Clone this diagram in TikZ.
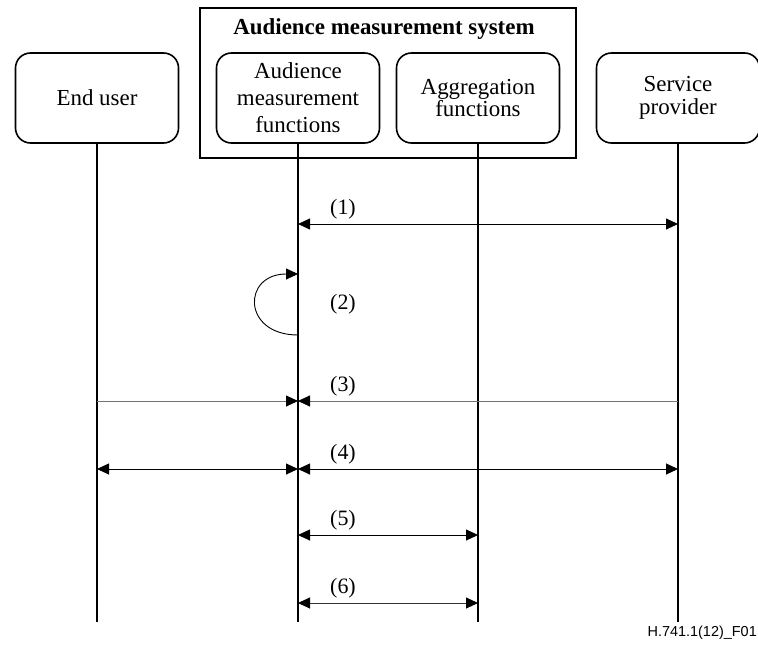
\documentclass[tikz,border=0pt]{standalone}
\usepackage{fontspec}
\setmainfont{Liberation Serif}
\setsansfont{Liberation Sans}
\usetikzlibrary{arrows.meta,calc}

\begin{document}
\begin{tikzpicture}[x=1bp,y=-1bp,font=\fontsize{23}{23}\selectfont,
  >={Triangle[length=12bp,width=11bp,color=black]},
  actor/.style={draw,line width=1.6bp,rounded corners=15bp,minimum width=163bp,minimum height=90bp,align=center,inner sep=0pt},
  sysbox/.style={draw,line width=1.8bp,minimum width=376bp,minimum height=150bp,inner sep=0pt},
  life/.style={line width=2bp},
  msg/.style={line width=.9bp},
  lbl/.style={inner sep=1pt,font=\fontsize{22}{24}\selectfont}]
 \useasboundingbox (0,0) rectangle (758,645);
 % system box and the four parties
 \node[sysbox] (ams) at (388,83) {};
 \node[font=\fontsize{23}{25}\selectfont\bfseries] (amstitle) at (384,29) {Audience measurement system};
 \node[actor] (eu) at (97,98) {End user};
 \node[actor,font=\fontsize{23}{27}\selectfont] (amf) at (298,98) {Audience\\measurement\\functions};
 \node[actor] (agg) at (478,98) {Aggregation\\functions};
 \node[actor] (sp) at (678,98) {Service\\provider};
 \foreach \l in {eu,amf,agg,sp}{
  \coordinate (\l-end) at (\l.south |- 0,622);
  \draw[life] (\l.south) -- (\l-end);
  \foreach \m/\y in {1/224,2a/335,2b/274,3/401,4/469,5/535,6/603}{\coordinate (\l-\m) at (\l.south |- 0,\y);}
 }
 % messages
 \draw[msg,<->] (amf-1) -- (sp-1);
 \draw[msg,->] (amf-2a) .. controls +(-56,0) and +(-56,0) .. (amf-2b);
 \draw[msg,black!55,->] (eu-3) -- (amf-3);
 \draw[msg,black!55,->] (sp-3) -- (amf-3);
 \draw[msg,<->] (eu-4) -- (amf-4);
 \draw[msg,<->] (amf-4) -- (sp-4);
 \draw[msg,<->] (amf-5) -- (agg-5);
 \draw[msg,black!80,<->] (amf-6) -- (agg-6);
 \foreach \m in {1,3,4,5,6}{\node[lbl] (lbl\m) at ([xshift=45bp,yshift=15bp]amf-\m) {(\m)};}
 \node[lbl] (lbl2) at ($(amf-2a)!.5!(amf-2b)+(45,0)$) {(2)};
 \node[font=\sffamily\fontsize{14.5}{16}\selectfont,anchor=east,inner sep=0pt] (figid) at (757,633) {H.741.1(12)\_F01};
\end{tikzpicture}
\end{document}
